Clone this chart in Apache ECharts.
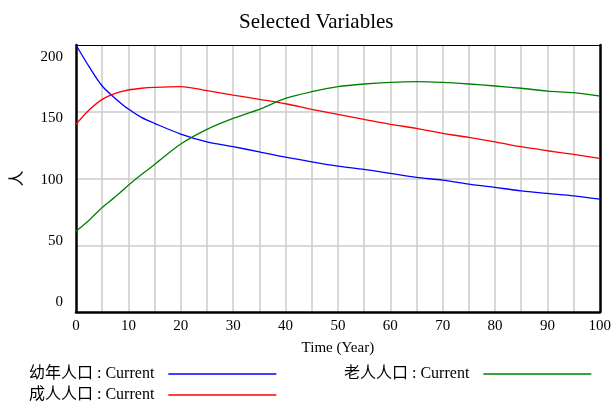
<!DOCTYPE html>
<html>
<head>
<meta charset="utf-8">
<script src="https://cdn.jsdelivr.net/npm/echarts@6/dist/echarts.min.js"></script>
<style>
  html, body { margin: 0; padding: 0; background: #fff; }
  #chart { width: 614px; height: 402px; }
</style>
</head>
<body>
<div id="chart"></div>
<script>
// time points (years)
const times = [0, 2.5, 5, 7.5, 10, 12.5, 15, 20, 25, 30, 35, 40, 45, 50, 55, 60, 65, 70, 75, 80, 85, 90, 95, 100]
// 幼年人口
const youth = [200, 183.8, 169.3, 160, 152, 145.8, 141.3, 133.3, 127.5, 123.8, 120, 116, 112.5, 109.3, 106.8, 103.8, 100.8, 98.8, 95.8, 93.3, 90.8, 88.8, 87, 84.5]
// 成人人口
const adult = [140.6, 151.3, 159.3, 163.8, 166.3, 167.6, 168.3, 168.8, 165.8, 162.5, 159.3, 156, 151.8, 148, 144.3, 140.6, 137.6, 133.8, 130.8, 127.5, 123.8, 120.8, 118, 115]
// 老人人口
const elderly = [60.5, 68.8, 78.3, 86.3, 95, 103, 110.5, 125.8, 136.8, 145, 151.8, 160, 165, 168.8, 170.8, 172, 172.5, 172, 170.8, 169.3, 167.6, 165.5, 164.3, 161.8]
const yTicks = [0, 50, 100, 150, 200]

const serif = '"Liberation Serif", "Times New Roman", "Noto Sans CJK SC", serif'
const gridColor = '#cccccc'

const pairs = (vals) => times.map((t, i) => [t, vals[i]])

// one legend block per series so each sits where Vensim puts it
const legendAt = (name, left, top) => ({
    data: [name],
    left: left, top: top,
    align: 'right',
    icon: 'rect',
    itemWidth: 108, itemHeight: 1.5,
    padding: 0,
    formatter: (n) => n + ' : Current',
    textStyle: { fontFamily: serif, fontSize: 16, color: '#000', padding: [0, 9, 0, 0] }
})

const chartDom = document.getElementById('chart')
const myChart = echarts.init(chartDom)

const option = {
    animation: false,
    title: {
        text: 'Selected Variables',
        left: 234,
        top: 7,
        textStyle: { fontFamily: serif, fontSize: 21, fontWeight: 'normal', color: '#000' }
    },
    grid: { left: 75, right: 13, top: 45, bottom: 90 },
    legend: [
        legendAt('幼年人口', 29, 366),
        legendAt('成人人口', 29, 387),
        legendAt('老人人口', 344, 366)
    ],
    xAxis: [{
        type: 'value',
        min: 0, max: 100, interval: 10,
        name: 'Time (Year)',
        nameLocation: 'middle',
        nameGap: 29,
        nameTextStyle: { fontFamily: serif, fontSize: 15, color: '#000' },
        axisLine: { show: true, onZero: false, lineStyle: { color: '#000', width: 2.5 } },
        axisTick: { show: false },
        axisLabel: { fontFamily: serif, fontSize: 15, color: '#000', margin: 7 },
        splitLine: { show: true, showMinLine: false, showMaxLine: false, lineStyle: { color: gridColor, width: 1.5 } },
        minorTick: { show: false, splitNumber: 2 },
        minorSplitLine: { show: true, lineStyle: { color: gridColor, width: 1.5 } }
    }, {
        // top frame line
        type: 'value',
        position: 'top',
        min: 0, max: 100,
        axisLine: { show: true, onZero: false, lineStyle: { color: '#000', width: 1 } },
        axisTick: { show: false },
        axisLabel: { show: false },
        splitLine: { show: false }
    }],
    yAxis: [{
        type: 'value',
        min: 0, max: 200, interval: 50,
        name: '人',
        nameLocation: 'middle',
        nameRotate: 90,
        nameGap: 52,
        nameTextStyle: { fontFamily: '"Noto Sans CJK SC", sans-serif', fontSize: 16, color: '#000' },
        axisLine: { show: true, onZero: false, lineStyle: { color: '#000', width: 2.5 } },
        axisTick: { show: false },
        axisLabel: { show: false },
        splitLine: { show: true, showMinLine: false, showMaxLine: false, lineStyle: { color: gridColor, width: 1.5 } }
    }, {
        // label-only axis: Vensim spreads its tick labels a bit beyond the grid lines
        type: 'value',
        position: 'left',
        min: -7.9, max: 209.8,
        axisLine: { show: false, onZero: false },
        axisTick: { show: false },
        splitLine: { show: false },
        axisLabel: {
            customValues: yTicks,
            fontFamily: serif, fontSize: 15, color: '#000', margin: 13
        }
    }, {
        // right frame line
        type: 'value',
        position: 'right',
        min: 0, max: 200,
        axisLine: { show: true, onZero: false, lineStyle: { color: '#000', width: 2.5 } },
        axisTick: { show: false },
        axisLabel: { show: false },
        splitLine: { show: false }
    }],
    series: [
        { name: '幼年人口', type: 'line', data: pairs(youth), color: '#0000ff' },
        { name: '成人人口', type: 'line', data: pairs(adult), color: '#ff0000' },
        { name: '老人人口', type: 'line', data: pairs(elderly), color: '#008000' }
    ].map(s => ({
        ...s,
        showSymbol: false,
        symbol: 'none',
        smooth: 0.3,
        clip: true,
        lineStyle: { width: 1.3, color: s.color },
        itemStyle: { color: s.color }
    }))
}

myChart.setOption(option)
</script>
</body>
</html>
